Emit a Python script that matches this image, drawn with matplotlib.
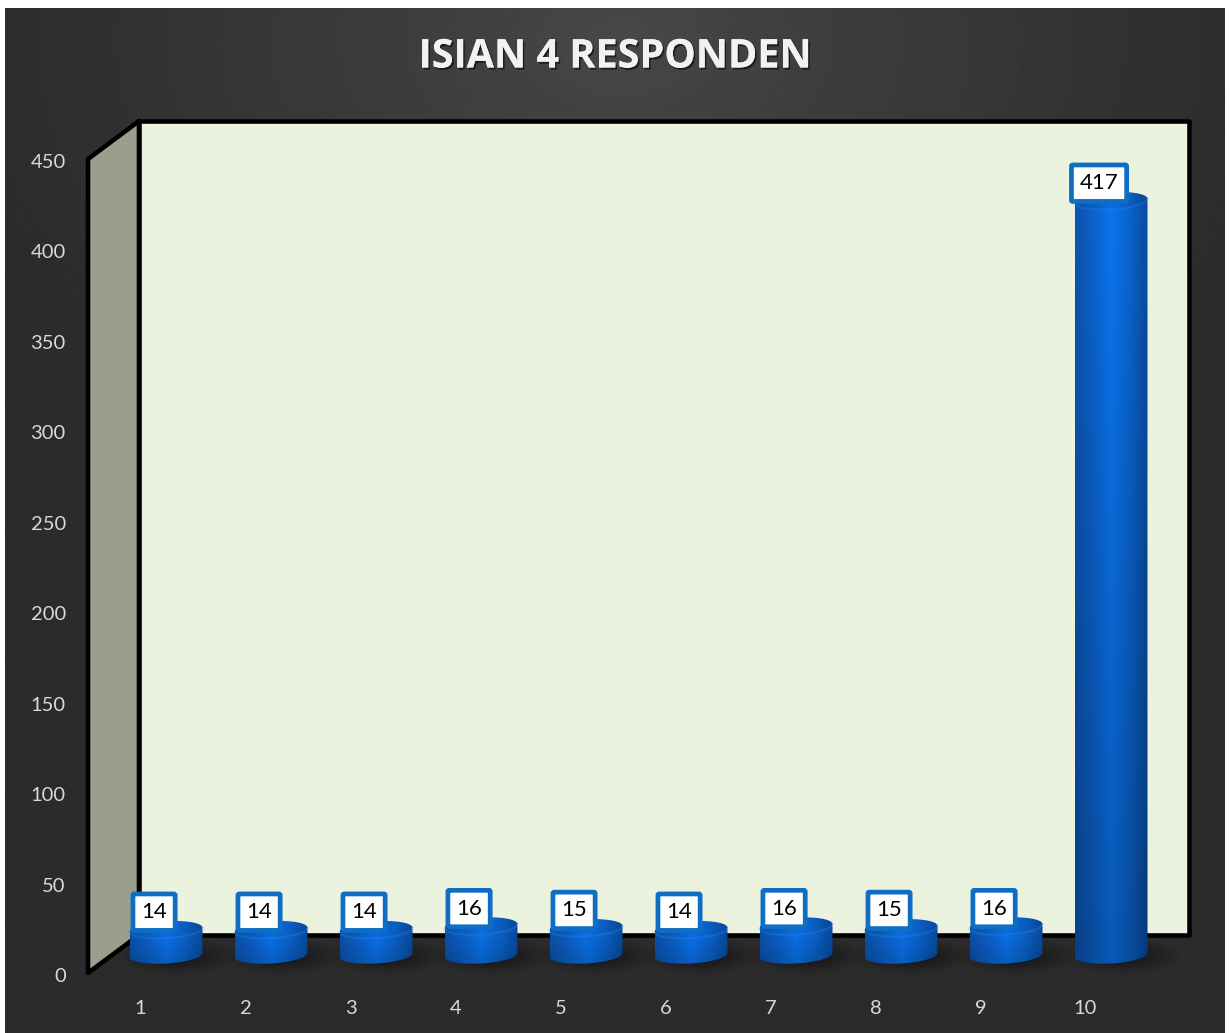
#!/bin/python3
import numpy as np
import matplotlib
matplotlib.use('Agg')
import matplotlib.pyplot as plt
import matplotlib.patheffects as pe
from matplotlib.patches import Polygon, Rectangle, PathPatch
from matplotlib.path import Path

W, H = 1230, 1033

categories = [1, 2, 3, 4, 5, 6, 7, 8, 9, 10]
values = [14, 14, 14, 16, 15, 14, 16, 15, 16, 417]
y_ticks = [0, 50, 100, 150, 200, 250, 300, 350, 400, 450]
title = 'ISIAN 4 RESPONDEN'

plt.rcParams['font.family'] = ['Lato', 'DejaVu Sans']


def px_axes(fig, x0, y0, x1, y1):
    # pixel box with y measured from the top of the picture
    return fig.add_axes([x0 / W, 1 - y1 / H, (x1 - x0) / W, (y1 - y0) / H])


fig = plt.figure(figsize=(W / 100, H / 100), dpi=100, facecolor='white')

# Background in pixel coordinates
bg = fig.add_axes([0, 0, 1, 1])
bg.axis('off')
yy, xx = np.mgrid[0:H, 0:W]
r = np.sqrt(((xx - 620) / 680.0) ** 2 + ((yy - 30) / 480.0) ** 2)
grad = np.clip(r, 0, 1) ** 0.85
shade = 0.285 - 0.115 * grad
bg.imshow(shade, extent=(5, 1225, 1033, 8), cmap='gray', vmin=0, vmax=1,
          aspect='auto', zorder=0)
bg.set_xlim(0, W)
bg.set_ylim(H, 0)

# Walls
bg.add_patch(Polygon([(88, 159), (139, 121), (139, 935), (88, 973)],
                     closed=True, fc='#9a9f8d', ec='black', lw=3.3, joinstyle='round', zorder=1))
bg.add_patch(Rectangle((139, 121), 1050, 814, fc='#ebf3de', ec='black', lw=3.3,
                       joinstyle='round', zorder=1))

bg.text(615, 57, title, color='#f2f2f2', fontsize=28.5, fontweight='bold',
        family=['Open Sans', 'DejaVu Sans'], ha='center', va='center', zorder=3,
        path_effects=[pe.withSimplePatchShadow(offset=(1.2, -1.5), shadow_rgbFace='black', alpha=0.55),
                      pe.Normal()])

# Tick axes, front plane of the chart
tk = px_axes(fig, 88, 161, 1138, 975)
tk.patch.set_visible(False)
tk.set_xlim(0.5, 10.5)
tk.set_ylim(0, 450)
for s in tk.spines.values():
    s.set_visible(False)
tk.set_xticks(categories)
tk.set_yticks(y_ticks)
tk.tick_params(axis='both', length=0, colors='#d9d9d9', labelsize=14.5)
tk.tick_params(axis='y', pad=16)
tk.tick_params(axis='x', pad=18)

# Bar axes, middle of the depth; room below zero for the round bottoms
unit = 814 / 450.0
ax = px_axes(fig, 113.5, 141, 1163.5, 955 + 20 * unit)
ax.patch.set_visible(False)
ax.axis('off')

bar_w = 0.695
ell_h = 17 / unit
tilt = 2 / unit

stops = np.array([[0x0b, 0x50, 0xa8], [0x0b, 0x5e, 0xc4], [0x0a, 0x70, 0xe6],
                  [0x0a, 0x60, 0xc6], [0x08, 0x48, 0x98]]) / 255.0
pos = np.linspace(0, 1, 256)
ramp = np.stack([np.interp(pos, np.linspace(0, 1, 5), stops[:, i]) for i in range(3)], axis=1)
down = np.linspace(1.04, 0.8, 128)[:, None, None]
body_img = np.clip(ramp[None, :, :] * down, 0, 1)
cap_img = np.clip(ramp[None, :, :] * 0.98, 0, 1)

bars = ax.bar(categories, values, width=bar_w, color='none', zorder=4)

for cat, val, b in zip(categories, values, bars):
    x0 = b.get_x()
    x1 = x0 + b.get_width()

    # soft shadow on the floor
    sy, sx = np.mgrid[-1:1:120j, -1:1:200j]
    blob = np.clip(1 - np.sqrt(sx ** 2 + sy ** 2), 0, 1) ** 1.1
    rgba = np.zeros(blob.shape + (4,))
    rgba[..., 3] = blob * 0.6
    shadow = ax.imshow(rgba, extent=(x0 - 0.12, x1 + 0.32, -11, 10), aspect='auto', zorder=2)
    shadow.set_clip_on(False)

    # body with rounded bottom, the gradient is clipped to it
    t = np.linspace(np.pi, 2 * np.pi, 40)
    low_x = cat + bar_w / 2 * np.cos(t)
    low_y = ell_h / 2 * np.sin(t) + tilt * np.cos(t)
    verts = list(zip(low_x, low_y)) + [(x1, val + tilt), (x0, val - tilt), (low_x[0], low_y[0])]
    body = PathPatch(Path(verts), transform=ax.transData, fc='none', ec='none')
    ax.add_patch(body)
    im = ax.imshow(body_img, extent=(x0, x1, -ell_h, val), aspect='auto', zorder=4)
    im.set_clip_path(body)

    # top face, tilted like the bottom
    t = np.linspace(0, 2 * np.pi, 80)
    cap_x = cat + bar_w / 2 * np.cos(t)
    cap_y = val + ell_h / 2 * np.sin(t) + tilt * np.cos(t)
    cap = Polygon(np.column_stack([cap_x, cap_y]), closed=True, transform=ax.transData,
                  fc='none', ec='none')
    ax.add_patch(cap)
    im2 = ax.imshow(cap_img, extent=(x0, x1, val - ell_h, val + ell_h), aspect='auto', zorder=5)
    im2.set_clip_path(cap)
    ax.plot(cap_x[40:], cap_y[40:], color='#2f86e6', lw=1.5, alpha=0.3, zorder=6)

    # value label
    ax.annotate(str(val), (cat, val), xytext=(-8.6, 12.6), textcoords='offset points',
                ha='center', va='center', fontsize=16, color='black', zorder=7,
                bbox=dict(boxstyle='round,pad=0.37,rounding_size=0.06', fc='white',
                          ec='#0e6ec4', lw=3.4))

ax.set_xlim(0.5, 10.5)
ax.set_ylim(-20, 450)

fig.savefig('out.png', dpi=100, facecolor='white')
